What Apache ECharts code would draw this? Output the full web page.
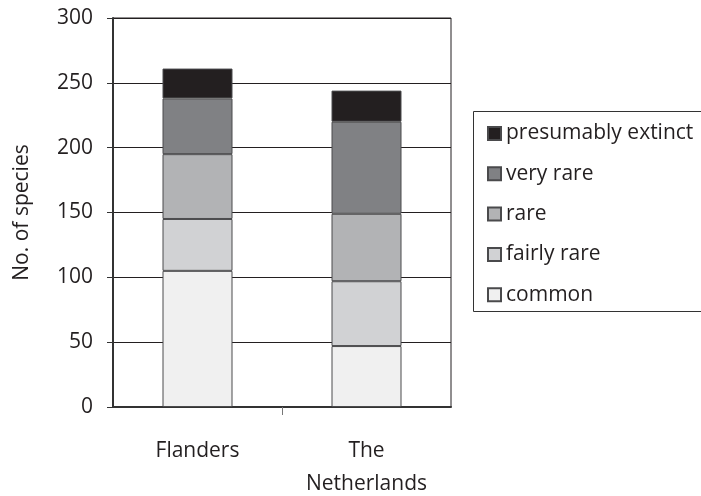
<!DOCTYPE html>
<html>
<head>
<meta charset="utf-8">
<script src="https://cdn.jsdelivr.net/npm/echarts@6/dist/echarts.min.js"></script>
<style>
  html, body { margin: 0; padding: 0; background: #fff; }
  #chart { width: 701px; height: 496px; }
</style>
</head>
<body>
<div id="chart"></div>
<script>
// Species counts per rarity class, stacked from common at the bottom up
const regions = ['Flanders', 'The\nNetherlands'];
const common = [105, 47];
const fairlyRare = [40, 50];
const rare = [50, 52];
const veryRare = [43, 71];
const presumablyExtinct = [23, 24];

const yTicks = { min: 0, max: 300, interval: 50 };

const FONT = '"Comic Sans MS", "Open Sans", sans-serif';
const INK = '#231f20';

const classes = [
  { name: 'common', data: common, color: '#f0f0f0' },
  { name: 'fairly rare', data: fairlyRare, color: '#d1d2d4' },
  { name: 'rare', data: rare, color: '#b2b3b5' },
  { name: 'very rare', data: veryRare, color: '#808184' },
  { name: 'presumably extinct', data: presumablyExtinct, color: '#231f20' }
];

const chart = echarts.init(document.getElementById('chart'), null, { renderer: 'canvas' });

chart.setOption({
  animation: false,
  backgroundColor: '#fff',
  textStyle: { fontFamily: FONT, color: INK },
  grid: {
    left: 113, top: 18, right: 250, bottom: 89,
    outerBoundsMode: 'none',
    containLabel: false,
    show: true, borderColor: INK, borderWidth: 1, backgroundColor: 'transparent'
  },
  graphic: [{
    type: 'rect', left: 473, top: 111, z: 0,
    shape: { width: 240, height: 200 },
    style: { fill: '#fff', stroke: '#333', lineWidth: 1 }
  }],
  legend: {
    orient: 'vertical',
    left: 482, top: 118,
    icon: 'rect',
    itemWidth: 13, itemHeight: 13, itemGap: 19.3,
    data: classes.map(c => c.name).reverse(),
    textStyle: { fontFamily: FONT, fontSize: 21, lineHeight: 21, color: INK },
    z: 5
  },
  xAxis: [{
    type: 'category',
    data: regions,
    axisLine: { show: true, lineStyle: { color: '#333', width: 2 } },
    axisTick: { show: false },
    axisLabel: {
      fontFamily: FONT, fontSize: 21, color: INK, margin: 28, lineHeight: 33
    }
  }, {
    // Separator tick between the two regions
    type: 'value',
    position: 'bottom',
    min: 0, max: 2,
    axisLine: { show: false },
    axisLabel: { show: false },
    splitLine: { show: false },
    axisTick: { show: true, length: 8, customValues: [1], lineStyle: { color: '#777', width: 1 } }
  }],
  yAxis: {
    type: 'value',
    min: yTicks.min, max: yTicks.max, interval: yTicks.interval,
    name: 'No. of species',
    nameLocation: 'middle', nameGap: 80, nameRotate: 90,
    nameTextStyle: { fontFamily: FONT, fontSize: 21, color: INK },
    axisLine: { show: true, lineStyle: { color: '#333', width: 2 } },
    axisTick: { show: true, inside: false, length: 6, lineStyle: { color: '#333', width: 1 } },
    axisLabel: { fontFamily: FONT, fontSize: 21, color: INK, margin: 20 },
    splitLine: { show: true, lineStyle: { color: INK, width: 1 } }
  },
  series: classes.map(c => ({
    name: c.name,
    type: 'bar',
    stack: 'species',
    xAxisIndex: 0,
    barWidth: 70,
    data: c.data,
    itemStyle: { color: c.color, borderColor: '#4a4a4c', borderWidth: 1 }
  }))
});
</script>
</body>
</html>
